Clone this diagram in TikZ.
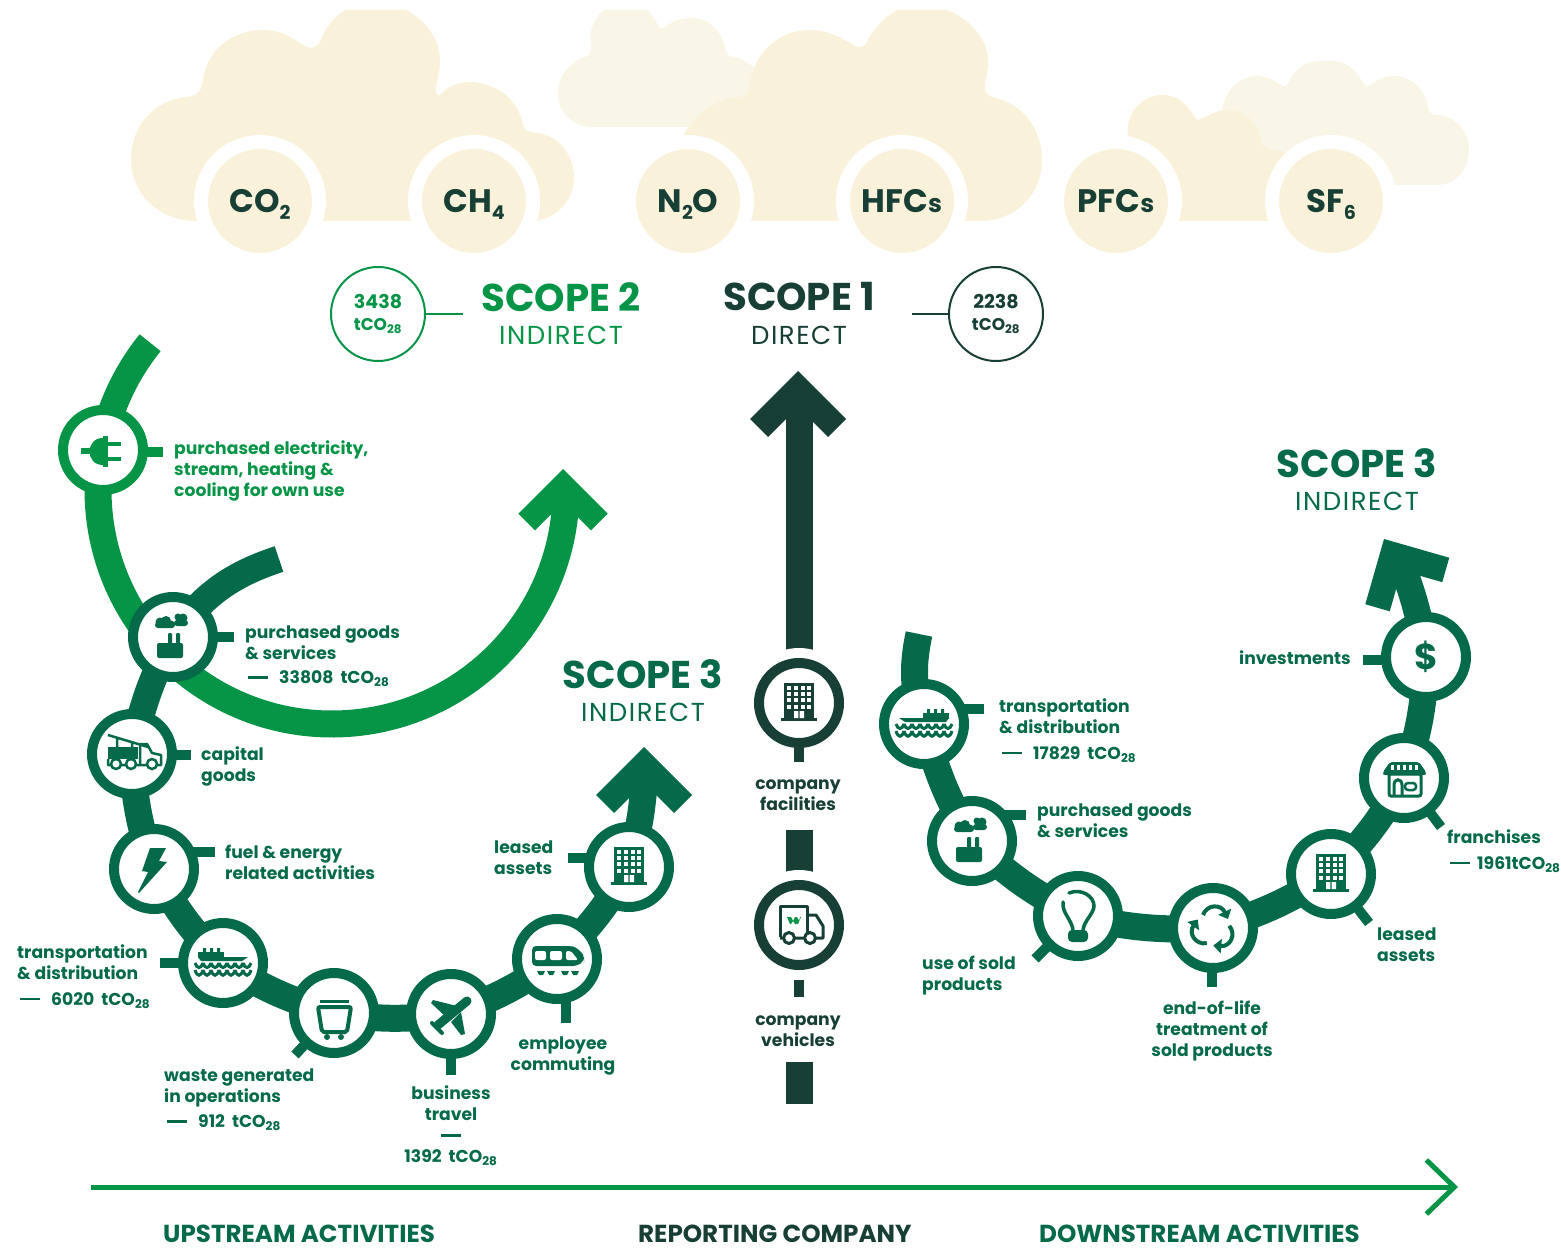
\documentclass[tikz,border=0pt]{standalone}
\usepackage{fontspec}
\setmainfont{Poppins}
\usetikzlibrary{backgrounds,arrows.meta,calc}
\definecolor{ink}{HTML}{183F36}
\definecolor{pine}{HTML}{046A4A}
\definecolor{leaf}{HTML}{069547}
\definecolor{cream}{HTML}{F9F1D9}
\definecolor{pale}{HTML}{FAF6E7}
\newcommand{\dashrule}{\rule[5pt]{20pt}{2.5pt}}
\newcommand{\tcoline}[1]{\hspace*{3pt}\dashrule\hspace{11pt}#1\hspace{7pt}tCO\textsubscript{28}}
\newcommand{\gsub}[1]{\raisebox{-7pt}{\fontsize{19}{20}\selectfont #1}}
\begin{document}
\begin{tikzpicture}[x=1pt,y=-1pt]
  \tikzset{
    ring/.style={circle,draw,line width=10pt,fill=white,minimum size=80pt,inner sep=0pt},
    gas/.style={circle,draw=white,line width=14pt,fill=cream,minimum size=118pt,inner sep=0pt,text=ink,text height=23pt,text depth=0pt,font=\fontsize{32.5}{36}\selectfont\bfseries},
    tally/.style={circle,draw,line width=2pt,fill=white,minimum size=94pt,inner sep=0pt,align=center,font=\fontsize{19}{24}\selectfont\bfseries},
    band/.style={line width=27pt},
    stub/.style={line width=10pt},
    lbl/.style={inner sep=0pt,anchor=west,align=left,yshift=-2pt,text=pine,font=\fontsize{17.2}{21}\selectfont\bfseries},
    lblc/.style={lbl,anchor=center,align=center},
    scopehd/.style={inner sep=0pt,font=\fontsize{38.7}{40}\selectfont\bfseries},
    scopesub/.style={inner sep=0pt,font=\fontsize{26}{30}\selectfont\addfontfeature{LetterSpace=6}},
    foot/.style={inner sep=0pt,anchor=west,font=\fontsize{24.6}{28}\selectfont\bfseries},
    headicon/.pic={\fill (0,0) -- (48,48) -- (30,66) -- (0,36) -- (-30,66) -- (-48,48) -- cycle;},
    plugicon/.pic={
      \fill (-22,-2) rectangle (-12,4);
      \fill (0,-12) .. controls (-18,-12) and (-18,15) .. (0,15) -- cycle;
      \fill (0,-14) rectangle (5,17);
      \fill (5,-8) rectangle (18,-4);
      \fill (5,7) rectangle (18,11);},
    factoryicon/.pic={
      \fill[rounded corners=3pt] (-18,-15) rectangle (2,-9);
      \fill (-13,-15) circle (4.5) (-7,-16) circle (5) (-2,-13) circle (3.5);
      \fill[rounded corners=3pt] (1,-17) rectangle (15,-11);
      \fill (5,-20) circle (3.5) (10,-19) circle (4.5);
      \fill[rounded corners=2pt] (-16,6) rectangle (10,21);
      \fill[rounded corners=1pt] (-5,-4) rectangle (-1,8);
      \fill[rounded corners=1pt] (3,-4) rectangle (7,8);},
    craneicon/.pic={
      \fill (-24,-7) rectangle (6,5);
      \draw[line width=2.5pt] (-24,-19) -- (16,-7) (-15,-16) -- (-15,-7) (0,-12) -- (0,-7);
      \draw[line width=2.5pt,line join=round] (-24,5) -- (-24,11) -- (29,11) -- (29,1) -- (20,-1) -- (15,-10) -- (8,-10) -- (8,11);
      \draw[line width=2.5pt,fill=white] (-16,10) circle (5) (-1,10) circle (5) (20,10) circle (5);},
    bolticon/.pic={
      \fill (-4,-21) -- (12,-21) -- (5,-8) -- (13,-7) -- (-15,24) -- (-16,23) -- (-6,3) -- (-12,2) -- cycle;},
    shipicon/.pic={
      \fill (-25,-11) rectangle (1,-5);
      \fill (-20,-15) rectangle (-17,-11) (-13,-15) rectangle (-10,-11) (-6,-15) rectangle (-3,-11);
      \fill (-25,-6) -- (25,-6) -- (19,-2) -- (-22,-2) -- cycle;
      \foreach \k in {0,...,6} {
        \draw[line width=3pt] (-28+8*\k,0) .. controls (-26+8*\k,6) and (-22+8*\k,6) .. (-20+8*\k,0);
        \draw[line width=3pt] (-28+8*\k,7) .. controls (-26+8*\k,14) and (-22+8*\k,14) .. (-20+8*\k,7);
      }},
    binicon/.pic={
      \fill (-14,-13) rectangle (15,-10);
      \draw[line width=4pt,rounded corners=2pt] (-16,-6) -- (17,-6) -- (13,19) -- (-12,19) -- cycle;
      \fill (-7,24) circle (3) (7,24) circle (3);},
    planeicon/.pic={
      \draw[line width=9pt,line cap=round] (16,-13) -- (-13,11);
      \fill (-20,-11) -- (-18,-14) -- (6,-8) -- (-5,3) -- cycle;
      \fill (10,-2) -- (0,8) -- (10,21) -- (14,20) -- cycle;
      \draw[line width=4pt,line cap=round] (-19,9) -- (-9,19);},
    trainicon/.pic={
      \fill[rounded corners=4pt] (-25,-13) -- (12,-13) .. controls (20,-12) and (26,-5) .. (27,0) -- (27,2) -- (20,7) -- (-25,7) -- cycle;
      \fill[white,rounded corners=2pt] (-22,-8) rectangle (-11,1) (-7,-8) rectangle (5,1);
      \fill[white,rounded corners=2pt] (9,-8) -- (14,-8) -- (21,1) -- (9,1) -- cycle;
      \foreach \k in {-16,-6,8,18} {\fill (\k-4,12) -- (\k+4,12) -- (\k+2,16) -- (\k-2,16) -- cycle;}},
    buildingicon/.pic={
      \fill (-15,-20) rectangle (15,15);
      \fill (-18,15) rectangle (18,18);
      \foreach \px in {-10,-3,4,10} {\foreach \py in {-15,-9,-3,4} {\fill[white] (\px-1.7,\py-1.7) rectangle (\px+1.7,\py+1.7);}}
      \fill[white] (-5,8) rectangle (-0.7,15) (0.7,8) rectangle (5,15);},
    bulbicon/.pic={
      \draw[line width=3.5pt,line cap=round] (-5,14) .. controls (-6,5) and (-15,-3) .. (-15,-11) .. controls (-15,-12) and (-15,-13) .. (-15,-14);
      \draw[line width=3.5pt,line cap=round] (-9,-23) .. controls (3,-28) and (16,-20) .. (16,-10) .. controls (16,-3) and (6,5) .. (5,14);
      \fill[rounded corners=4pt] (-10,14) rectangle (10,26);},
    recycleicon/.pic={
      \foreach \r in {0,120,240} {
        \draw[rotate=\r,line width=4pt,-{Triangle[length=8pt,width=14pt]}] (-10,-13) .. controls (-6,-24) and (8,-24) .. (15,-9);
      }},
    shopicon/.pic={
      \draw[line width=3pt,rounded corners=2pt] (-15,-4) rectangle (17,18);
      \fill[rounded corners=2pt] (-14,-16) -- (15,-16) -- (22,-6) -- (22,-3) -- (-21,-3) -- (-21,-6) -- cycle;
      \foreach \px in {-13,-7,-1,5,11} {\fill[white] (\px,-13) rectangle (\px+3,-8);}
      \draw[line width=3pt] (-10,18) -- (-10,7) .. controls (-10,0) and (-2,0) .. (-2,7) -- (-2,18);
      \draw[line width=2.5pt,rounded corners=3pt] (1,5) rectangle (12,12);},
    truckicon/.pic={
      \draw[line width=3pt,line join=round] (-19,12) -- (-19,-19) -- (8,-19) -- (8,13);
      \draw[line width=3pt,line join=round] (8,-10) -- (17,-10) -- (24,1) -- (24,13) -- (8,13) -- (-19,13);
      \draw[line width=3pt,fill=white] (-10,13) circle (5.5) (11,13) circle (5.5);
      \fill[leaf] (-12,-8) -- (-8,-8) -- (-6,-4) -- (-4,-8) -- (-2,-8) -- (0,-4) -- (1,-8) -- (2,-8) -- (-1,-1) -- (-4,-1) -- (-6,-4) -- (-8,-1) -- (-9,-1) -- cycle;},
  }
  \useasboundingbox (0,0) rectangle (1561,1249);

  \node[gas] (co2) at (260,201) {CO\gsub{2}};
  \node[gas] (ch4) at (474,201) {CH\gsub{4}};
  \node[gas] (n2o) at (688,201) {N\gsub{2}O};
  \node[gas] (hfc) at (902,201) {HFC{\fontsize{25}{30}\selectfont s}};
  \node[gas] (pfc) at (1116,201) {PFC{\fontsize{25}{30}\selectfont s}};
  \node[gas] (sf6) at (1331,201) {SF\gsub{6}};

  \node[scopehd,text=leaf] (scope2) at (561,297) {SCOPE 2};
  \node[scopesub,text=leaf] (scope2sub) at (561,335) {INDIRECT};
  \node[scopehd,text=ink] (scope1) at (799,297) {SCOPE 1};
  \node[scopesub,text=ink] (scope1sub) at (799,335) {DIRECT};
  \node[scopehd,text=pine] (scope3a) at (643,674) {SCOPE 3};
  \node[scopesub,text=pine] (scope3asub) at (643,712) {INDIRECT};
  \node[scopehd,text=pine] (scope3b) at (1357,463) {SCOPE 3};
  \node[scopesub,text=pine] (scope3bsub) at (1357,501) {INDIRECT};

  \node[tally,draw=leaf,text=leaf] (tally2) at (378,314) {3438\\[-2pt]{\fontsize{17}{20}\selectfont tCO\textsubscript{28}}};
  \node[tally,draw=ink,text=ink] (tally1) at (996,314) {2238\\[-2pt]{\fontsize{17}{20}\selectfont tCO\textsubscript{28}}};
  \coordinate (tick2) at (463,314);
  \coordinate (tick1) at (912,314);
  \draw[leaf,line width=2pt] (tally2) -- (tick2);
  \draw[ink,line width=2pt] (tally1) -- (tick1);

  \node[ring,draw=leaf] (plug) at (103,450) {};
  \node[ring,draw=pine] (goods) at (173,637) {};
  \node[ring,draw=pine] (capital) at (132,754) {};
  \node[ring,draw=pine] (fuel) at (154,869) {};
  \node[ring,draw=pine] (ship) at (223,963) {};
  \node[ring,draw=pine] (waste) at (334,1013) {};
  \node[ring,draw=pine] (plane) at (451,1014) {};
  \node[ring,draw=pine] (train) at (557,959) {};
  \node[ring,draw=pine] (leased) at (629,867) {};
  \node[ring,draw=ink] (company) at (799,703) {};
  \node[ring,draw=ink] (truck) at (799,925) {};
  \node[ring,draw=pine] (shipb) at (924,724) {};
  \node[ring,draw=pine] (goodsb) at (972,841) {};
  \node[ring,draw=pine] (bulb) at (1078,916) {};
  \node[ring,draw=pine] (recycle) at (1213,928) {};
  \node[ring,draw=pine] (leasedb) at (1331,874) {};
  \node[ring,draw=pine] (shop) at (1404,778) {};
  \node[ring,draw=pine,text=pine,font=\fontsize{36}{40}\selectfont\bfseries] (dollar) at (1426,657) {\$};

  \coordinate (leafc) at (332,490);
  \coordinate (leaftail) at ($(leafc)+(219:234)$);
  \coordinate (pinetail) at (279,559);
  \coordinate (pineend) at (645,770);
  \coordinate (pinebtail) at (919,634);
  \coordinate (pinebend) at (1400,560);
  \coordinate (inkend) at (799,405);
  \coordinate (bara) at (799,830);
  \coordinate (barb) at (799,1062);
  \coordinate (barc) at (799,1104);
  \coordinate (axisa) at (91,1187);
  \coordinate (axisb) at (1458,1187);

  \begin{scope}[on background layer]
    \fill[pale] (593,127) .. controls (572,127) and (558,112) .. (558,93) .. controls (558,75) and (570,62) .. (585,57) .. controls (591,55) and (592,50) .. (591,45) .. controls (588,32) and (594,18) .. (604,10) -- (647,10) .. controls (654,16) and (657,24) .. (660,28) .. controls (664,32) and (668,18) .. (691,18) .. controls (710,18) and (722,32) .. (725,48) .. controls (726,53) and (728,56) .. (733,57) .. controls (742,58) and (750,63) .. (756,70) -- (760,127) -- cycle;
    \fill[pale] (1222,112) .. controls (1224,90) and (1240,76) .. (1257,76) .. controls (1270,76) and (1278,84) .. (1283,86) .. controls (1288,87) and (1288,82) .. (1292,76) .. controls (1298,67) and (1308,61) .. (1320,61) -- (1333,61) .. controls (1346,61) and (1356,70) .. (1362,81) .. controls (1365,87) and (1368,87) .. (1373,83) .. controls (1379,79) and (1386,76) .. (1393,76) .. controls (1412,76) and (1425,90) .. (1428,107) .. controls (1429,113) and (1432,115) .. (1437,115) .. controls (1456,116) and (1469,132) .. (1469,150) .. controls (1469,170) and (1455,185) .. (1437,185) -- (1395,185) -- (1300,185) -- (1230,130) -- cycle;
    \fill[cream] (196,221) .. controls (160,221) and (131,195) .. (131,159) .. controls (131,125) and (155,100) .. (187,97) .. controls (198,96) and (202,90) .. (203,80) .. controls (207,50) and (232,30) .. (263,30) .. controls (283,30) and (295,40) .. (303,45) .. controls (312,50) and (318,48) .. (322,37) .. controls (327,25) and (335,17) .. (345,10) -- (406,10) .. controls (428,22) and (440,40) .. (440,62) .. controls (440,75) and (435,85) .. (436,92) .. controls (437,97) and (440,96) .. (443,92) .. controls (450,85) and (460,82) .. (473,82) .. controls (500,85) and (518,100) .. (523,125) .. controls (524,130) and (528,132) .. (537,133) .. controls (558,135) and (574,155) .. (574,177) .. controls (574,198) and (560,216) .. (537,221) -- cycle;
    \fill[cream] (684,221) -- (684,135) .. controls (695,112) and (718,99) .. (740,97) .. controls (747,96) and (749,92) .. (750,84) .. controls (754,52) and (780,30) .. (810,30) .. controls (830,30) and (845,40) .. (855,46) .. controls (862,49) and (866,45) .. (868,40) .. controls (875,27) and (884,18) .. (897,10) -- (947,10) .. controls (972,20) and (988,40) .. (988,62) .. controls (988,72) and (985,80) .. (985,87) .. controls (985,93) and (988,96) .. (995,98) .. controls (1022,104) and (1042,128) .. (1042,160) .. controls (1042,195) and (1015,221) .. (980,221) -- cycle;
    \fill[cream] (1140,221) -- (1128,137) .. controls (1125,115) and (1140,95) .. (1163,95) .. controls (1178,95) and (1187,105) .. (1194,116) .. controls (1197,121) and (1198,120) .. (1203,118) .. controls (1212,114) and (1218,110) .. (1227,110) .. controls (1245,110) and (1259,124) .. (1261,140) .. controls (1262,146) and (1265,148) .. (1270,149) .. controls (1278,150) and (1283,151) .. (1290,155) -- (1290,221) -- cycle;

    \draw[leaf,band] (leaftail) arc (219:2:234);
    \draw[pine,band] (pinetail) to[bend right=18] (goods.center);
    \foreach \a/\b in {goods/capital,capital/fuel,fuel/ship,ship/waste,waste/plane,plane/train,train/leased}
      \draw[pine,band] (\a.center) to[bend right=8] (\b.center);
    \draw[pine,band] (leased.center) to[bend right=6] (pineend);
    \draw[pine,band] (pinebtail) to[bend right=15] (shipb.center);
    \foreach \a/\b in {shipb/goodsb,goodsb/bulb,bulb/recycle,recycle/leasedb,leasedb/shop,shop/dollar}
      \draw[pine,band] (\a.center) to[bend right=8] (\b.center);
    \draw[pine,band] (dollar.center) to[bend right=6] (pinebend);

    \coordinate (truck tick) at (799,997);
    \draw[ink,band] (inkend) -- (company.center);
    \draw[ink,band] (bara) -- (truck.center);
    \draw[ink,band] (barb) -- (barc);
    \draw[ink,stub] (truck tick) -- (truck.center);
    \fill[white] (company.center) circle (55);
    \fill[white] (truck.center) circle (55);

    \foreach \n/\x/\y in {goods/234/637,capital/191/755,fuel/215/852,ship/160/963,leased/568/858,shipb/984/709,goodsb/1026/815,dollar/1363/660} {
      \coordinate (\n tick) at (\x,\y);
      \draw[pine,stub] (\n tick) -- (\n tick -| \n.center);
    }
    \foreach \n/\x/\y in {plane/451/1075,train/566/1023,recycle/1212/987} {
      \coordinate (\n tick) at (\x,\y);
      \draw[pine,stub] (\n tick) -- (\n tick |- \n.center);
    }
    \foreach \n/\x/\y in {waste/295/1055,bulb/1035/959,leasedb/1369/923,shop/1441/827} {
      \coordinate (\n tick) at (\x,\y);
      \draw[pine,stub] (\n tick) -- (\n.center);
    }
    \coordinate (plug tick) at (163,452);
    \coordinate (company tick) at (799,762);
    \draw[leaf,stub] (plug tick) -- (plug tick -| plug.center);
    \draw[ink,stub] (company tick) -- (company.center);
  \end{scope}

  \pic[color=leaf,scale=.93] at (563,469) {headicon};
  \pic[color=pine] at (644,747) {headicon};
  \pic[color=ink] at (798,371) {headicon};
  \pic[color=pine,rotate=29] at (1384,539) {headicon};

  \pic[color=leaf] at (plug) {plugicon};
  \pic[color=pine] at (goods) {factoryicon};
  \pic[color=pine] at (capital) {craneicon};
  \pic[color=pine] at (fuel) {bolticon};
  \pic[color=pine] at (ship) {shipicon};
  \pic[color=pine] at (waste) {binicon};
  \pic[color=pine] at (plane) {planeicon};
  \pic[color=pine] at (train) {trainicon};
  \pic[color=pine] at (leased) {buildingicon};
  \pic[color=ink] at (company) {buildingicon};
  \pic[color=ink] at (truck) {truckicon};
  \pic[color=pine,xscale=-1] at (shipb) {shipicon};
  \pic[color=pine] at (goodsb) {factoryicon};
  \pic[color=pine] at (bulb) {bulbicon};
  \pic[color=pine] at (recycle) {recycleicon};
  \pic[color=pine] at (leasedb) {buildingicon};
  \pic[color=pine] at (shop) {shopicon};

  \node[lbl,text=leaf] (lplug) at (174,469) {purchased electricity,\\stream, heating \&\\cooling for own use};
  \node[lbl] (lgoods) at (245,654.5) {purchased goods\\\& services\\[3pt]\tcoline{33808}};
  \node[lbl] (lcapital) at (201,764) {capital\\goods};
  \node[lbl] (lfuel) at (225,860.5) {fuel \& energy\\related activities};
  \node[lbl] (lship) at (17,974.5) {transportation\\\& distribution\\[5pt]\tcoline{6020}};
  \node[lbl] (lwaste) at (164,1098) {waste generated\\in operations\\[4pt]\tcoline{912}};
  \node[lblc] (lplane) at (451,1124) {business\\travel\\\dashrule\\1392\hspace{7pt}tCO\textsubscript{28}};
  \node[lblc] (ltrain) at (563,1053.5) {employee\\commuting};
  \node[lbl] (lleased) at (494,855.5) {leased\\assets};
  \node[lblc,text=ink] (lcompany) at (798,793.5) {company\\facilities};
  \node[lblc,text=ink] (ltruck) at (798,1029.5) {company\\vehicles};
  \node[lbl] (lshipb) at (999,728.5) {transportation\\\& distribution\\[5pt]\tcoline{17829}};
  \node[lbl] (lgoodsb) at (1037,818.5) {purchased goods\\\& services};
  \node[lbl] (lbulb) at (922,973.5) {use of sold\\products};
  \node[lblc] (lrecycle) at (1212,1029) {end-of-life\\treatment of\\sold products};
  \node[lbl] (lleasedb) at (1377,943) {leased\\assets};
  \node[lbl] (lshop) at (1447,849) {franchises\\[5pt]\hspace*{3pt}\dashrule\hspace{7pt}1961tCO\textsubscript{28}};
  \node[lbl] (ldollar) at (1239,656) {investments};

  \draw[leaf,line width=5pt,-{Straight Barb[length=28pt,width=54pt,line width=5pt]}] (axisa) -- (axisb);
  \node[foot,text=pine] (fup) at (163,1234) {UPSTREAM ACTIVITIES};
  \node[foot,text=ink] (frep) at (638,1234) {REPORTING COMPANY};
  \node[foot,text=pine] (fdown) at (1039,1234) {DOWNSTREAM ACTIVITIES};
\end{tikzpicture}
\end{document}
